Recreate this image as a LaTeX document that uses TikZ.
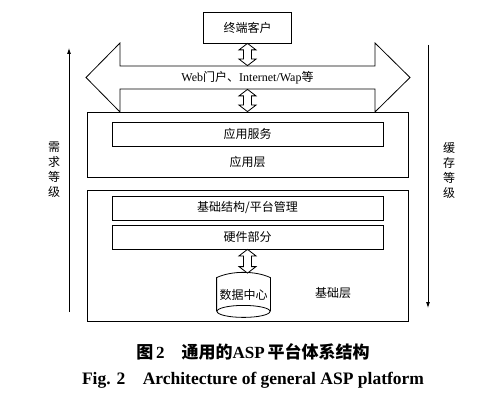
\documentclass[tikz,border=0pt]{standalone}
\usepackage{fontspec}
\setmainfont{Liberation Serif}
\newfontfamily\cjk{Noto Sans CJK SC}
\usepackage{tikz}
\usetikzlibrary{positioning,arrows.meta,calc}

% hollow vertical double arrow between two points (top, bottom)
\newcommand{\hollowarrow}[2]{%
  \draw[fill=white] let \p1=(#1), \p2=(#2) in
    (\x1,\y1) -- (\x1+8.5pt,\y1-6.5pt) -- (\x1+4pt,\y1-6.5pt) -- (\x1+4pt,\y2+6.5pt)
    -- (\x1+8.5pt,\y2+6.5pt) -- (\x1,\y2) -- (\x1-8.5pt,\y2+6.5pt) -- (\x1-4pt,\y2+6.5pt)
    -- (\x1-4pt,\y1-6.5pt) -- (\x1-8.5pt,\y1-6.5pt) -- cycle;}

\begin{document}
\begin{tikzpicture}[x=1pt, y=-1pt, >={Latex[length=6pt,width=4pt]}, line width=0.8pt,
    every node/.style={font=\cjk\fontsize{12}{15}\selectfont, inner sep=0pt},
    layerbox/.style={draw, minimum width=321pt},
    innerbox/.style={draw, minimum width=271pt, minimum height=24pt}]
  \useasboundingbox (0,0) rectangle (500,403);

  \node[draw, minimum width=88pt, minimum height=31pt] (client) at (247.5,27.5) {终端客户};

  % big double arrow
  \draw (86,77.5) -- (120,43) -- (120,66) -- (375,66) -- (375,43) -- (410,77.5)
    -- (375,112) -- (375,89) -- (120,89) -- (120,112) -- cycle;
  \node[minimum width=255pt, minimum height=23pt] (web) at (247.5,77.5)
    {{\rmfamily Web}门户、{\rmfamily Internet/Wap}等};

  \node[layerbox, minimum height=65pt] (applayer) at (247.5,144.5) {};
  \node[innerbox] (appsvc) at (247.5,134) {应用服务};
  \node (applbl) at (247.5,162) {应用层};

  \node[layerbox, minimum height=131pt] (baselayer) at (247.5,255.5) {};
  \node[innerbox] (infra) at (247.5,208) {基础结构/平台管理};
  \node[innerbox] (hw) at (247.5,237) {硬件部分};

  % data centre drum
  \node[minimum width=53pt, minimum height=33pt] (dc) at (243.5,294.5) {数据中心};
  \draw (dc.south west) -- (dc.north west)
    .. controls ($(dc.north west)+(15,-7)$) and ($(dc.north east)+(-15,-7)$) .. (dc.north east)
    -- (dc.south east);
  \draw (dc.south) ellipse [x radius=26.5pt, y radius=6pt];
  \coordinate (dctop) at ($(dc.north)+(0,-4.5)$);
  \node (baselbl) at (333,293) {基础层};

  \hollowarrow{client.south}{web.north}
  \hollowarrow{web.south}{applayer.north}
  \hollowarrow{hw.south}{dctop}

  % side scales
  \coordinate (lbot) at (69,312);
  \coordinate (ltop) at (69,48);
  \coordinate (rtop) at (428,45);
  \coordinate (rbot) at (428,308);
  \draw[->] (lbot) -- (ltop);
  \draw[->] (rtop) -- (rbot);
  \node[align=center] (demand) at (54,170) {需\\求\\等\\级};
  \node[align=center] (cache) at (449,170) {缓\\存\\等\\级};

  % caption
  \node[font=\fontsize{17}{19}\selectfont\bfseries] (capcn) at (253,352)
    {{\cjk 图}\,2\quad{\cjk 通用的}ASP\,{\cjk 平台体系结构}};
  \node[font=\fontsize{17.5}{19}\selectfont\bfseries] (capen) at (253,380)
    {Fig. 2\quad Architecture of general ASP platform};
\end{tikzpicture}
\end{document}
